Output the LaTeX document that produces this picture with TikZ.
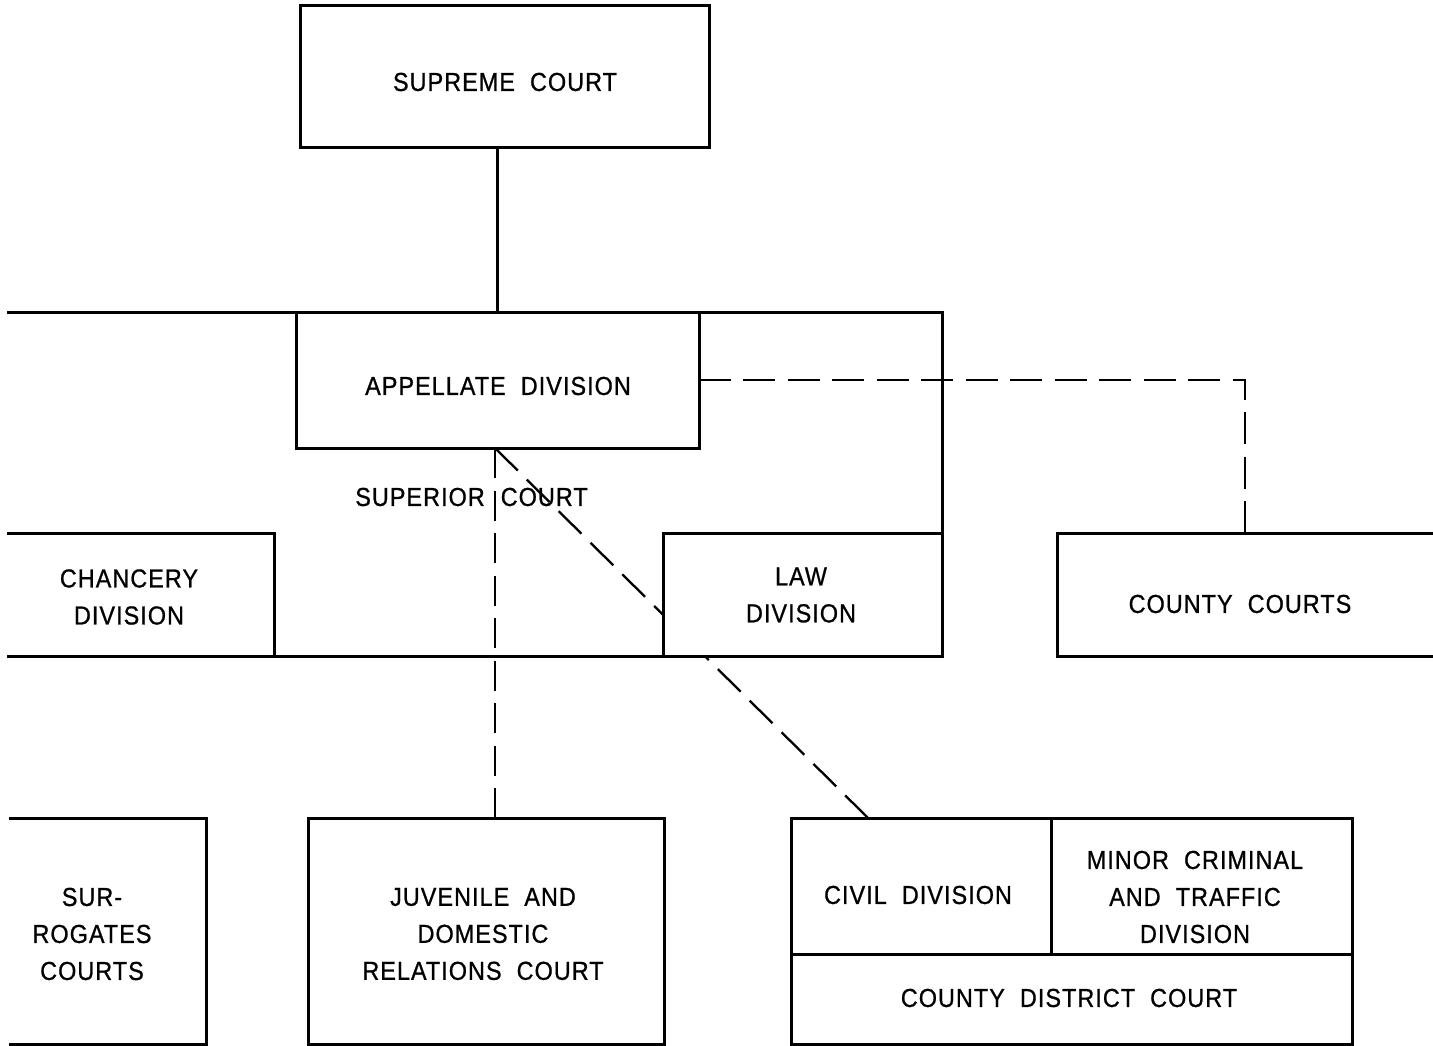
\documentclass[tikz,border=0pt]{standalone}
\usepackage{fontspec}
\newfontfamily\lab[LetterSpace=4,WordSpace=2,FakeStretch=0.9,FakeBold=0.8]{Liberation Sans}
\begin{document}
\begin{tikzpicture}[x=1pt,y=-1pt,
  box/.style={draw, line width=3pt, fill=white, inner sep=0pt, outer sep=0pt},
  nobox/.style={inner sep=0pt, outer sep=0pt},
  txt/.style={font=\lab\fontsize{26}{37}\selectfont, align=center, inner sep=0pt},
  frame/.style={line width=3pt, line cap=rect},
  dsh/.style={line width=2.3pt}]
\useasboundingbox (0,0) rectangle (1433,1046);
\fill[white] (0,0) rectangle (1433,1046);

% Supreme court
\node[box, minimum width=409pt, minimum height=142pt] (sup) at (504.5,77) {};
\node[txt] (tsup) at (505,82) {SUPREME COURT};

% Superior court frame
\coordinate (stl) at (8,312);
\coordinate (str) at (942,312);
\coordinate (sbr) at (942,656);
\coordinate (sbl) at (8,656);
\draw[frame] (stl) -- (str) -- (sbr) -- (sbl);

% Appellate division
\node[box, minimum width=403pt, minimum height=136pt] (app) at (497.5,380) {};
\node[txt] (tapp) at (498,386) {APPELLATE DIVISION};
\draw[frame] (app.north |- sup.south) -- (app.north);

\node[txt] (tsc) at (471.5,497) {SUPERIOR\hspace{16pt}COURT};

% Chancery division (left side open)
\node[nobox, minimum width=266pt, minimum height=123pt] (chan) at (141,594.5) {};
\draw[frame] (chan.north west) -- (chan.north east) -- (chan.south east);
\node[txt] (tchan) at (129,597) {CHANCERY\\DIVISION};

% County courts (right side open)
\node[nobox, minimum width=376pt, minimum height=123pt] (cc) at (1245,594.5) {};
\draw[frame] (cc.north east) -- (cc.north west) -- (cc.south west) -- (cc.south east);
\node[txt] (tcc) at (1240,604) {COUNTY COURTS};

% Bottom row
\node[nobox, minimum width=196pt, minimum height=226pt] (sur) at (108,931) {};
\draw[frame] (sur.north west) -- (sur.north east) -- (sur.south east) -- (sur.south west);
\node[txt] (tsur) at (92,934) {SUR-\\ROGATES\\COURTS};

\node[box, minimum width=356pt, minimum height=226pt] (juv) at (486,931) {};
\node[txt] (tjuv) at (483,934) {JUVENILE AND\\DOMESTIC\\RELATIONS COURT};

\node[box, minimum width=260pt, minimum height=136pt] (civ) at (921,886) {};
\node[box, minimum width=301pt, minimum height=136pt] (min) at (1201.5,886) {};
\node[box, minimum width=561pt, minimum height=90pt] (cdc) at (1071.5,999) {};
\node[txt] (tciv) at (918,895) {CIVIL DIVISION};
\node[txt] (tmin) at (1195,897) {MINOR CRIMINAL\\AND TRAFFIC\\DIVISION};
\node[txt] (tcdc) at (1069,998) {COUNTY DISTRICT COURT};

% Dashed links
\coordinate (ap) at ([xshift=-2.5pt]app.south);
\coordinate (cj) at (868,818);
\draw[dsh, dash pattern=on 32pt off 12.85pt] (ap) -- (cj);
\draw[dsh, dash pattern=on 32pt off 12.47pt] (app.east) -| (cc.north);
\draw[dsh, dash pattern=on 30pt off 12.5pt] (ap) -- (ap |- juv.north);

% Law division drawn over the diagonal
\node[box, minimum width=279pt, minimum height=123pt] (law) at (802.5,594.5) {};
\node[txt] (tlaw) at (801,595) {LAW\\DIVISION};
\end{tikzpicture}
\end{document}
